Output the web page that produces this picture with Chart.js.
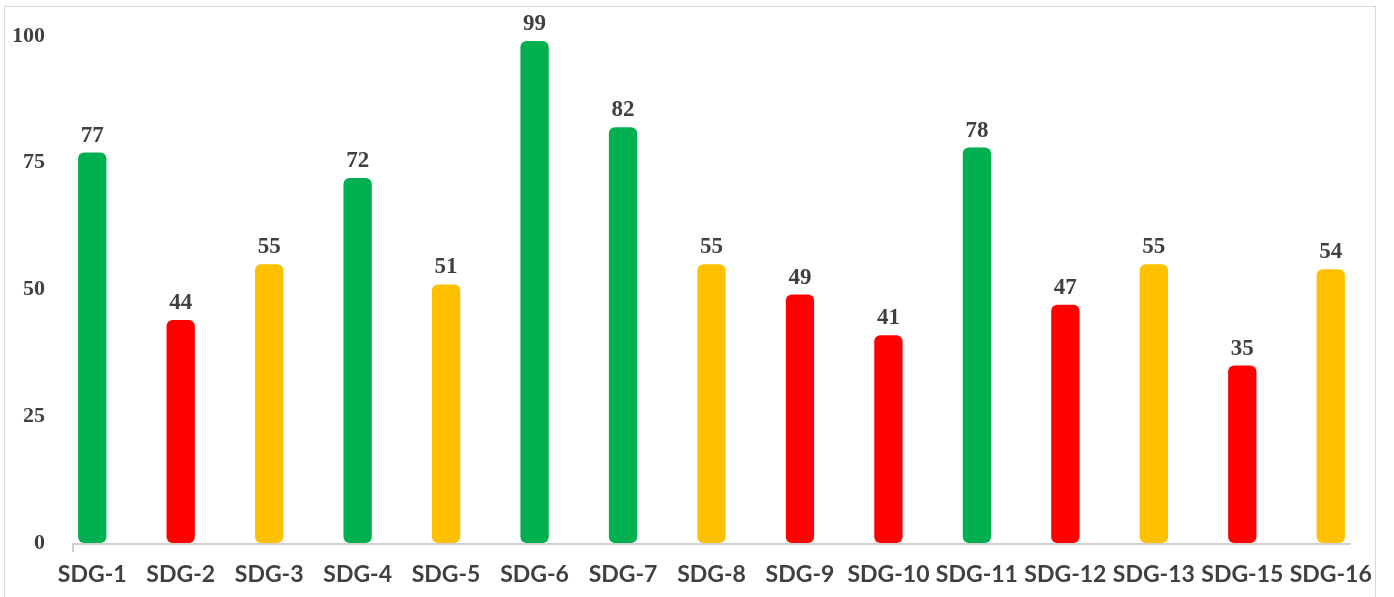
<!DOCTYPE html>
<html>
<head>
<meta charset="utf-8">
<script src="https://cdn.jsdelivr.net/npm/chart.js@4/dist/chart.umd.min.js"></script>
<style>
  html, body { margin: 0; padding: 0; background: #fff; overflow: hidden; }
  #box { position: absolute; left: 4px; top: 6px; width: 1370px; height: 600px; border: 1px solid #d9d9d9; }
  #myChart { display: block; }
</style>
</head>
<body>
<div id="box"><canvas id="myChart" width="1370" height="590" style="width:1370px;height:590px"></canvas></div>
<script>
// categories and scores
var labels = ['SDG-1', 'SDG-2', 'SDG-3', 'SDG-4', 'SDG-5', 'SDG-6', 'SDG-7', 'SDG-8',
              'SDG-9', 'SDG-10', 'SDG-11', 'SDG-12', 'SDG-13', 'SDG-15', 'SDG-16'];
var scores = [77, 44, 55, 72, 51, 99, 82, 55, 49, 41, 78, 47, 55, 35, 54];
// status per goal: g = achieved, y = on track, r = behind
var goalStatus = ['g', 'r', 'y', 'g', 'y', 'g', 'g', 'y', 'r', 'r', 'g', 'r', 'y', 'r', 'y'];
var yTicks = [0, 25, 50, 75, 100];

var palette = { g: '#00B050', r: '#FF0000', y: '#FFC000' };
var textColor = '#404040';

var ctx = document.getElementById('myChart').getContext('2d');

// value labels above each bar
var valueLabels = {
    id: 'valueLabels',
    afterDatasetsDraw: function (chart) {
        var c = chart.ctx;
        var meta = chart.getDatasetMeta(0);
        c.save();
        c.font = 'bold 23px "Liberation Serif"';
        c.fillStyle = textColor;
        c.textAlign = 'center';
        c.textBaseline = 'alphabetic';
        meta.data.forEach(function (bar, i) {
            c.fillText(String(scores[i]), bar.x, bar.y - 11);
        });
        c.restore();
    }
};

// short gray category axis line like the original
var axisLine = {
    id: 'axisLine',
    beforeDatasetsDraw: function (chart) {
        var a = chart.chartArea;
        var c = chart.ctx;
        c.save();
        c.strokeStyle = '#d0d0d0';
        c.lineWidth = 2;
        c.beginPath();
        c.moveTo(a.left + 25, a.bottom + 9);
        c.lineTo(a.left + 25, a.bottom + 1);
        c.lineTo(a.right - 24, a.bottom + 1);
        c.stroke();
        c.restore();
    }
};

new Chart(ctx, {
    type: 'bar',
    data: {
        labels: labels,
        datasets: [{
            data: scores,
            backgroundColor: goalStatus.map(function (s) { return palette[s]; }),
            borderRadius: 6,
            borderSkipped: false,
            barPercentage: 0.32,
            categoryPercentage: 1
        }]
    },
    options: {
        responsive: false,
        animation: false,
        layout: { padding: { top: 29, right: 0, left: 0, bottom: 0 } },
        plugins: {
            legend: { display: false },
            tooltip: { enabled: false }
        },
        scales: {
            x: {
                grid: { display: false, drawTicks: false },
                border: { display: false },
                ticks: {
                    autoSkip: false,
                    maxRotation: 0,
                    padding: 18,
                    color: textColor,
                    font: { family: 'Lato', weight: 'bold', size: 23 }
                },
                afterFit: function (scale) {
                    scale.height = 54;
                    scale.paddingLeft = 0;
                    scale.paddingRight = 0;
                }
            },
            y: {
                min: 0,
                max: 100,
                afterBuildTicks: function (scale) {
                    scale.ticks = yTicks.map(function (v) { return { value: v }; });
                },
                grid: { display: false, drawTicks: false },
                border: { display: false },
                ticks: {
                    padding: 3,
                    color: textColor,
                    font: { family: 'Liberation Serif', weight: 'bold', size: 22 }
                },
                afterFit: function (scale) {
                    scale.width = 43;
                    scale.paddingTop = 0;
                    scale.paddingBottom = 0;
                }
            }
        }
    },
    plugins: [valueLabels, axisLine]
});
</script>
</body>
</html>
